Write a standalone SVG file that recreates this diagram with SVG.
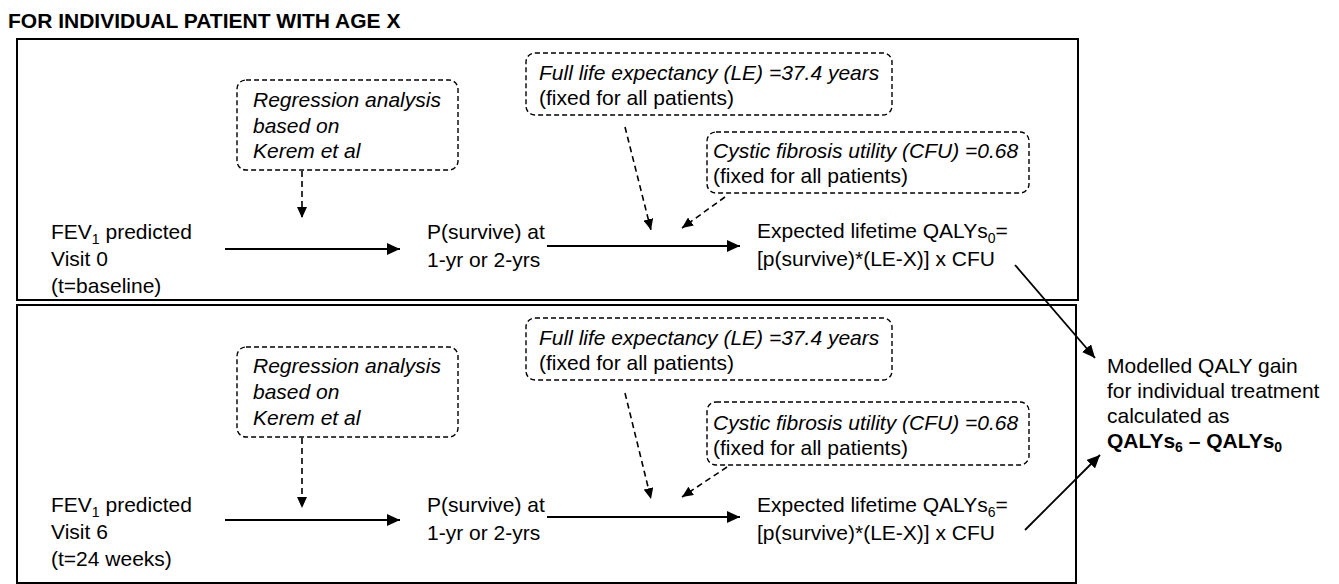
<svg xmlns="http://www.w3.org/2000/svg" width="1339" height="584" viewBox="0 0 1339 584">
  <defs>
    <style>
      text { font-family: "Liberation Sans", Arial, sans-serif; font-size: 21px; fill: #000; }
      .it { font-style: italic; }
      .bold { font-weight: bold; }
      .frame { fill: none; stroke: #000; stroke-width: 2; }
      .note { fill: none; stroke: #000; stroke-width: 1.4; stroke-dasharray: 5 3; }
      .flow { fill: none; stroke: #000; stroke-width: 2; marker-end: url(#arrowSolid); }
      .feed { fill: none; stroke: #000; stroke-width: 1.6; stroke-dasharray: 6 4; marker-end: url(#arrowSmall); }
      .diag { fill: none; stroke: #000; stroke-width: 1.8; marker-end: url(#arrowSolid); }
    </style>
    <marker id="arrowSolid" markerUnits="userSpaceOnUse" markerWidth="14" markerHeight="12" refX="13" refY="6" orient="auto">
      <path d="M0,0 L13,6 L0,12 Z" fill="#000"/>
    </marker>
    <marker id="arrowSmall" markerUnits="userSpaceOnUse" markerWidth="12" markerHeight="10" refX="11" refY="5" orient="auto">
      <path d="M0,0 L11,5 L0,10 Z" fill="#000"/>
    </marker>
  </defs>

  <rect width="1339" height="584" fill="#fff"/>

  <text id="title" class="bold" x="8" y="28">FOR INDIVIDUAL PATIENT WITH AGE X</text>

  <!-- section frames -->
  <rect id="frame-visit0" class="frame" x="17" y="39" width="1061" height="261"/>
  <rect id="frame-visit6" class="frame" x="17" y="305" width="1059" height="278"/>

  <!-- ===== Visit 0 ===== -->
  <g id="v0-regression">
    <rect class="note" x="237" y="80" width="221" height="90" rx="9"/>
    <text class="it" x="253" y="107">Regression analysis</text>
    <text class="it" x="253" y="133">based on</text>
    <text class="it" x="253" y="158">Kerem et al</text>
  </g>
  <g id="v0-fev">
    <text x="51" y="239">FEV<tspan dy="5" font-size="14">1</tspan><tspan dy="-5"> predicted</tspan></text>
    <text x="51" y="266">Visit 0</text>
    <text x="51" y="293">(t=baseline)</text>
  </g>
  <g id="v0-psurvive">
    <text x="427" y="239">P(survive) at</text>
    <text x="427" y="267">1-yr or 2-yrs</text>
  </g>
  <g id="v0-le">
    <rect class="note" x="526" y="53" width="366" height="62" rx="9"/>
    <text class="it" x="539" y="80">Full life expectancy (LE) =37.4 years</text>
    <text x="539" y="105">(fixed for all patients)</text>
  </g>
  <g id="v0-cfu">
    <rect class="note" x="707" y="132" width="322" height="61" rx="9"/>
    <text class="it" x="713" y="158">Cystic fibrosis utility (CFU) =0.68</text>
    <text x="713" y="183">(fixed for all patients)</text>
  </g>
  <g id="v0-qaly">
    <text x="757" y="238">Expected lifetime QALYs<tspan dy="5" font-size="14">0</tspan><tspan dy="-5">=</tspan></text>
    <text x="757" y="266">[p(survive)*(LE-X)] x CFU</text>
  </g>

  <!-- ===== Visit 6 ===== -->
  <g id="v6-regression">
    <rect class="note" x="237" y="347" width="221" height="90" rx="9"/>
    <text class="it" x="253" y="373">Regression analysis</text>
    <text class="it" x="253" y="399">based on</text>
    <text class="it" x="253" y="425">Kerem et al</text>
  </g>
  <g id="v6-fev">
    <text x="51" y="512">FEV<tspan dy="5" font-size="14">1</tspan><tspan dy="-5"> predicted</tspan></text>
    <text x="51" y="539">Visit 6</text>
    <text x="51" y="566">(t=24 weeks)</text>
  </g>
  <g id="v6-psurvive">
    <text x="427" y="512">P(survive) at</text>
    <text x="427" y="540">1-yr or 2-yrs</text>
  </g>
  <g id="v6-le">
    <rect class="note" x="526" y="318" width="366" height="62" rx="9"/>
    <text class="it" x="539" y="345">Full life expectancy (LE) =37.4 years</text>
    <text x="539" y="370">(fixed for all patients)</text>
  </g>
  <g id="v6-cfu">
    <rect class="note" x="707" y="402" width="322" height="63" rx="9"/>
    <text class="it" x="713" y="430">Cystic fibrosis utility (CFU) =0.68</text>
    <text x="713" y="455">(fixed for all patients)</text>
  </g>
  <g id="v6-qaly">
    <text x="757" y="512">Expected lifetime QALYs<tspan dy="5" font-size="14">6</tspan><tspan dy="-5">=</tspan></text>
    <text x="757" y="540">[p(survive)*(LE-X)] x CFU</text>
  </g>

  <!-- ===== Result ===== -->
  <g id="result">
    <text x="1107" y="373">Modelled QALY gain</text>
    <text x="1107" y="398">for individual treatment</text>
    <text x="1107" y="423">calculated as</text>
    <text class="bold" x="1107" y="448">QALYs<tspan dy="4" font-size="14">6</tspan><tspan dy="-4"> – QALYs</tspan><tspan dy="4" font-size="14">0</tspan></text>
  </g>

  <!-- connectors -->
  <g id="connectors">
    <line class="flow" x1="225" y1="249" x2="400" y2="249"/>
    <line class="flow" x1="547" y1="246" x2="740" y2="246"/>
    <line class="feed" x1="302" y1="171" x2="302" y2="218"/>
    <line class="feed" x1="625" y1="127" x2="651" y2="230"/>
    <line class="feed" x1="725" y1="197" x2="682" y2="228"/>

    <line class="flow" x1="225" y1="520" x2="400" y2="520"/>
    <line class="flow" x1="547" y1="517" x2="740" y2="517"/>
    <line class="feed" x1="302" y1="438" x2="302" y2="508"/>
    <line class="feed" x1="625" y1="393" x2="651" y2="499"/>
    <line class="feed" x1="727" y1="467" x2="682" y2="497"/>

    <line class="diag" x1="1015" y1="265" x2="1095" y2="358"/>
    <line class="diag" x1="1025" y1="530" x2="1100" y2="455"/>
  </g>
</svg>
